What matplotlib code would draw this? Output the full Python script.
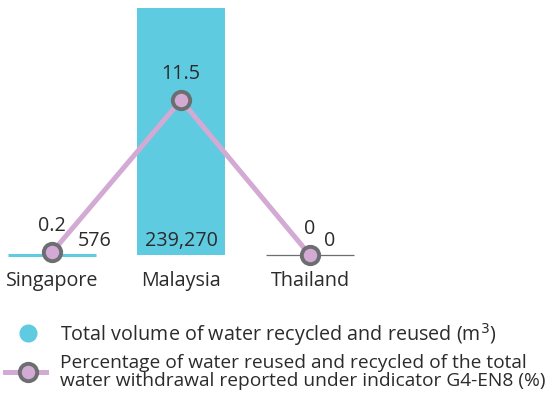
import matplotlib
matplotlib.use("Agg")
import matplotlib.pyplot as plt
from matplotlib.lines import Line2D

plt.rcParams['font.family'] = ['Open Sans', 'DejaVu Sans']

countries = ["Singapore", "Malaysia", "Thailand"]
volume_m3 = [576, 239270, 0]
volume_labels = ["576", "239,270", "0"]
pct_reused = [0.2, 11.5, 0]
pct_labels = ["0.2", "11.5", "0"]

CYAN = "#5ecbe0"
PINK = "#d3aad3"
GREY = "#6d6e71"
TEXT = "#2b2b2b"
FS = 14.2

fig = plt.figure(figsize=(5.53, 3.98), dpi=100)
ax = fig.add_axes([0, 0.359, 1, 0.621])
x = range(len(countries))
bars = ax.bar(x, volume_m3, width=0.68, color=CYAN, clip_on=False)
# tiny / empty bars still get a visible baseline stroke
bars[0].set_edgecolor(CYAN)
bars[0].set_linewidth(2.2)
bars[2].set_edgecolor(GREY)
bars[2].set_linewidth(0.9)
ax.set_xlim(-0.403, 3.884)
ax.set_ylim(0, max(volume_m3))
ax.axis("off")

# value labels for the bars, shifted where the marker sits on the baseline
bar_offsets = [43, 0, 20]
for i, (v, lab) in enumerate(zip(volume_m3, volume_labels)):
    ax.annotate(lab, (i, 0), xytext=(bar_offsets[i] * 0.72, 10), textcoords="offset points",
                ha="center", va="center", fontsize=FS, color=TEXT)

ax2 = ax.twinx()
ax2.set_ylim(0, 18.33)
ax2.axis("off")
ax2.plot(x, pct_reused, color=PINK, lw=3.6, zorder=2, clip_on=False)
ax2.plot(x, pct_reused, ls="none", marker="o", ms=12.5, mfc=PINK, mec=GREY,
         mew=2.8, zorder=3, clip_on=False)
for i, (v, lab) in enumerate(zip(pct_reused, pct_labels)):
    ax2.annotate(lab, (i, v), xytext=(0, 19), textcoords="offset points",
                 ha="center", va="center", fontsize=FS, color=TEXT)

for i, name in enumerate(countries):
    ax.annotate(name, (i, 0), xytext=(0, -22.5), textcoords="offset points",
                ha="center", va="baseline", fontsize=FS, color=TEXT)

# legend drawn in pixel-like coordinates
lg = fig.add_axes([0, 0, 1, 1], zorder=-1)
lg.set_xlim(0, 553)
lg.set_ylim(398, 0)
lg.axis("off")
lg.plot([28], [333], "o", ms=12, color=CYAN)
lg.add_line(Line2D([5, 46], [372, 372], color=PINK, lw=3.6))
lg.plot([28], [372], "o", ms=12.5, mfc=PINK, mec=GREY, mew=2.8)
lg.text(60, 341, "Total volume of water recycled and reused (m$^3$)",
        fontsize=FS, color=TEXT, va="baseline")
lg.text(60, 368, "Percentage of water reused and recycled of the total",
        fontsize=13.8, color=TEXT, va="baseline")
lg.text(60, 386, "water withdrawal reported under indicator G4-EN8 (%)",
        fontsize=13.8, color=TEXT, va="baseline")

fig.savefig("out.png", dpi=100)
